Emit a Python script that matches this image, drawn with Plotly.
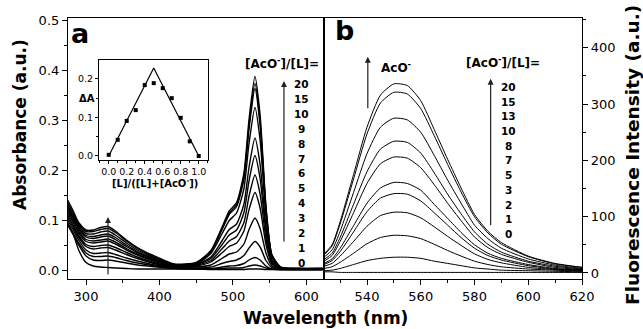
import plotly.graph_objects as go

# ---------------- data ----------------
ABS_WL = [275, 282, 290, 300, 310, 320, 330, 340, 355, 370, 390, 420, 450,
          470, 485, 495, 505, 515, 522, 530, 537, 545, 553, 565, 590, 622]
abs_20 = [0.140,0.120,0.095,0.080,0.080,0.085,0.087,0.078,0.060,0.045,0.030,0.012,0.015,
          0.039,0.085,0.118,0.135,0.194,0.302,0.387,0.310,0.128,0.031,0.006,0.003,0.003]
abs_15 = [0.135,0.115,0.092,0.077,0.077,0.081,0.083,0.075,0.058,0.043,0.028,0.011,0.014,
          0.037,0.082,0.114,0.131,0.187,0.291,0.373,0.298,0.123,0.030,0.006,0.003,0.003]
abs_10 = [0.130,0.110,0.088,0.073,0.072,0.076,0.078,0.070,0.054,0.040,0.026,0.010,0.013,
          0.036,0.080,0.111,0.127,0.182,0.283,0.363,0.290,0.120,0.029,0.005,0.003,0.003]
abs_9 = [0.128,0.107,0.085,0.069,0.067,0.070,0.072,0.065,0.050,0.037,0.024,0.009,0.012,
         0.033,0.072,0.099,0.114,0.163,0.254,0.325,0.260,0.107,0.026,0.005,0.003,0.003]
abs_8 = [0.125,0.104,0.082,0.066,0.063,0.066,0.068,0.061,0.047,0.035,0.022,0.009,0.011,
         0.026,0.058,0.081,0.092,0.132,0.206,0.264,0.211,0.087,0.021,0.004,0.002,0.002]
abs_7 = [0.120,0.100,0.078,0.061,0.058,0.060,0.062,0.056,0.043,0.032,0.020,0.008,0.010,
         0.023,0.050,0.070,0.080,0.115,0.179,0.229,0.183,0.076,0.018,0.003,0.002,0.002]
abs_6 = [0.115,0.096,0.074,0.057,0.054,0.056,0.058,0.052,0.040,0.030,0.019,0.008,0.009,
         0.019,0.042,0.058,0.067,0.095,0.148,0.190,0.152,0.063,0.015,0.003,0.002,0.002]
abs_5 = [0.110,0.091,0.069,0.051,0.047,0.049,0.050,0.045,0.035,0.026,0.016,0.007,0.008,
         0.016,0.034,0.047,0.054,0.078,0.121,0.155,0.124,0.051,0.012,0.002,0.002,0.002]
abs_4 = [0.105,0.087,0.065,0.047,0.042,0.044,0.045,0.040,0.031,0.023,0.014,0.006,0.006,
         0.010,0.023,0.032,0.036,0.052,0.081,0.104,0.083,0.034,0.008,0.002,0.001,0.001]
abs_3 = [0.100,0.082,0.060,0.040,0.033,0.034,0.035,0.031,0.024,0.018,0.011,0.005,0.004,
         0.006,0.013,0.017,0.020,0.029,0.044,0.057,0.046,0.019,0.005,0.001,0.001,0.001]
abs_2 = [0.092,0.075,0.054,0.034,0.027,0.027,0.028,0.025,0.019,0.014,0.009,0.004,0.003,
         0.003,0.006,0.008,0.009,0.013,0.020,0.025,0.020,0.008,0.002,0.001,0.001,0.001]
abs_1 = [0.090,0.072,0.050,0.028,0.020,0.019,0.020,0.018,0.014,0.010,0.007,0.003,0.002,
         0.002,0.003,0.004,0.004,0.005,0.008,0.010,0.008,0.004,0.002,0.001,0.001,0.001]
abs_0 = [0.095,0.075,0.040,0.015,0.008,0.006,0.005,0.004,0.003,0.002,0.002,0.002,0.002,
         0.001,0.001,0.001,0.001,0.001,0.002,0.002,0.002,0.001,0.001,0.001,0.001,0.001]
ABS_LABELS = ['20', '15', '10', '9', '8', '7', '6', '5', '4', '3', '2', '1', '0']

FL_WL = [524, 527, 530, 535, 540, 545, 550, 555, 560, 565, 570, 575, 580, 585, 590, 600, 610, 620]
fl_20 = [34, 50, 91, 175, 259, 316, 336, 333, 306, 255, 202, 151, 104, 74, 54, 30, 17, 10]
fl_15 = [32, 48, 87, 167, 247, 302, 321, 318, 292, 244, 193, 144, 100, 71, 51, 29, 16, 10]
fl_13 = [28, 41, 74, 143, 212, 259, 275, 272, 250, 209, 165, 124, 85, 61, 44, 25, 14, 8]
fl_10 = [24, 35, 63, 122, 180, 220, 234, 232, 213, 178, 140, 105, 73, 51, 37, 21, 12, 7]
fl_8 = [21, 31, 56, 107, 159, 194, 206, 204, 187, 157, 124, 93, 64, 45, 33, 19, 10, 6]
fl_7 = [17, 25, 44, 84, 124, 151, 161, 159, 147, 122, 97, 72, 50, 35, 26, 15, 8, 5]
fl_5 = [15, 22, 38, 73, 109, 133, 141, 140, 128, 107, 85, 63, 44, 31, 23, 13, 7, 5]
fl_3 = [12, 17, 30, 56, 83, 102, 108, 107, 98, 82, 65, 49, 34, 24, 18, 10, 6, 4]
fl_2 = [8, 11, 19, 35, 52, 63, 67, 66, 61, 51, 40, 30, 21, 15, 11, 7, 5, 3]
fl_1 = [4, 5, 8, 15, 22, 26, 28, 28, 26, 21, 17, 13, 9, 7, 5, 4, 3, 2]
fl_0 = [2, 2, 1, 1, 1, 1, 1, 1, 1, 1, 1, 1, 1, 1, 1, 1, 1, 1]
FL_LABELS = ['20', '15', '13', '10', '8', '7', '5', '3', '2', '1', '0']

JOB_X = [0.0, 0.1, 0.2, 0.3, 0.4, 0.5, 0.6, 0.7, 0.8, 0.9, 1.0]
JOB_Y = [0.003, 0.042, 0.091, 0.119, 0.184, 0.189, 0.176, 0.150, 0.099, 0.038, 0.0]
FIT_X = [0.0, 0.5, 1.0]
FIT_Y = [0.0, 0.228, 0.0]

abs_series = [abs_20, abs_15, abs_10, abs_9, abs_8, abs_7, abs_6, abs_5, abs_4, abs_3, abs_2, abs_1, abs_0]
fl_series = [fl_20, fl_15, fl_13, fl_10, fl_8, fl_7, fl_5, fl_3, fl_2, fl_1, fl_0]

# ---------------- layout helpers ----------------
W, H = 643, 329
ML, MR, MT, MB = 68, 61, 18, 50
PW, PH = W - ML - MR, H - MT - MB
def px(x):
    return (x - ML) / PW
def py(y):
    return (H - MB - y) / PH

FONT = "DejaVu Sans, Arial, sans-serif"
fig = go.Figure()

for s in abs_series:
    fig.add_trace(go.Scatter(x=ABS_WL, y=s, mode='lines', xaxis='x', yaxis='y',
                             line=dict(color='black', width=1.4, shape='spline', smoothing=0.6),
                             hoverinfo='skip'))
for s in fl_series:
    fig.add_trace(go.Scatter(x=FL_WL, y=s, mode='lines', xaxis='x2', yaxis='y2',
                             line=dict(color='black', width=1.0, shape='spline', smoothing=0.6),
                             hoverinfo='skip'))
fig.add_trace(go.Scatter(x=FIT_X, y=FIT_Y, mode='lines', xaxis='x3', yaxis='y3',
                         line=dict(color='black', width=1.2), hoverinfo='skip'))
fig.add_trace(go.Scatter(x=JOB_X, y=JOB_Y, mode='markers', xaxis='x3', yaxis='y3',
                         marker=dict(symbol='square', size=4, color='black'), hoverinfo='skip'))

axcommon = dict(showline=True, linecolor='black', linewidth=1.2, mirror=True,
                ticks='outside', tickcolor='black', ticklen=5, tickwidth=1,
                showgrid=False, zeroline=False, tickfont=dict(family=FONT, size=13, color='black'))

xdiv = px(324)
fig.update_layout(
    width=W, height=H, margin=dict(l=ML, r=MR, t=MT, b=MB),
    paper_bgcolor='white', plot_bgcolor='white', showlegend=False,
    xaxis=dict(domain=[0, xdiv], range=[275.5, 624], dtick=100, anchor='y',
               minor=dict(dtick=50, ticklen=3, ticks='outside', tickcolor='black'), **axcommon),
    yaxis=dict(domain=[0, 1], range=[-0.018, 0.504], dtick=0.1, tickformat='.1f', anchor='x',
               minor=dict(dtick=0.05, ticklen=3, ticks='outside', tickcolor='black'), **axcommon),
    xaxis2=dict(domain=[xdiv, 1], range=[524, 620], dtick=20, anchor='y2',
                minor=dict(dtick=10, ticklen=3, ticks='outside', tickcolor='black'), **axcommon),
    yaxis2=dict(domain=[0, 1], range=[-10.7, 453], dtick=100, anchor='x2', side='right',
                minor=dict(dtick=50, ticklen=3, ticks='outside', tickcolor='black'), **axcommon),
    xaxis3=dict(domain=[px(99), px(208)], range=[-0.108, 1.103], dtick=0.2, tickformat='.1f',
                anchor='y3', showline=True, linecolor='black', linewidth=1, mirror=True,
                ticks='outside', ticklen=3, tickcolor='black', showgrid=False, zeroline=False,
                minor=dict(dtick=0.1, ticklen=2, ticks='outside', tickcolor='black'),
                tickfont=dict(family=FONT, size=9.5, color='black')),
    yaxis3=dict(domain=[py(160), py(60)], range=[-0.0104, 0.249], dtick=0.1, tickformat='.1f',
                anchor='x3', showline=True, linecolor='black', linewidth=1, mirror=True,
                ticks='outside', ticklen=3, tickcolor='black', showgrid=False, zeroline=False,
                minor=dict(dtick=0.05, ticklen=2, ticks='outside', tickcolor='black'),
                tickfont=dict(family=FONT, size=9.5, color='black')),
)

ann = []
def txt(x, y, t, size, bold=True, xanchor='center', yanchor='middle', angle=0):
    ann.append(dict(x=px(x), y=py(y), xref='paper', yref='paper', text=(f'<b>{t}</b>' if bold else t),
                    showarrow=False, xanchor=xanchor, yanchor=yanchor, textangle=angle,
                    font=dict(family=FONT, size=size, color='black')))

txt(80, 33, 'a', 27)
txt(344, 30, 'b', 27)
txt(282, 63, '[AcO<sup>-</sup>]/[L]=', 12)
for i, lab in enumerate(ABS_LABELS):
    txt(301, 84 + i * 14.9, lab, 10.5)
txt(396, 67, 'AcO<sup>-</sup>', 12)
txt(503, 62, '[AcO<sup>-</sup>]/[L]=', 12)
for i, lab in enumerate(FL_LABELS):
    txt(508, 87 + i * 14.7, lab, 10.5)
txt(87, 99, 'ΔA', 10)
txt(155, 183, '[L]/([L]+[AcO<sup>-</sup>])', 10)
txt(325, 318, 'Wavelength (nm)', 17)
txt(20, 125, 'Absorbance (a.u.)', 17, angle=-90)
txt(632, 155, 'Fluorescence Intensity (a.u.)', 18.5, angle=-90)

def arrow(xref, yref, x, y0, y1):
    ann.append(dict(x=x, y=y1, ax=x, ay=y0, xref=xref, yref=yref, axref=xref, ayref=yref,
                    text='', showarrow=True, arrowhead=2, arrowsize=1, arrowwidth=1.2,
                    arrowcolor='#222', standoff=0, startstandoff=0))

arrow('x', 'y', 330, -0.012, 0.106)
arrow('x', 'y', 569.5, 0.054, 0.378)
arrow('x2', 'y2', 540.3, 290, 384)
arrow('x2', 'y2', 586, 82, 345)

fig.update_layout(annotations=ann)
fig.write_html("out.html", config={'displayModeBar': False},
               post_script="document.body.style.margin='0';document.body.style.padding='0';")
